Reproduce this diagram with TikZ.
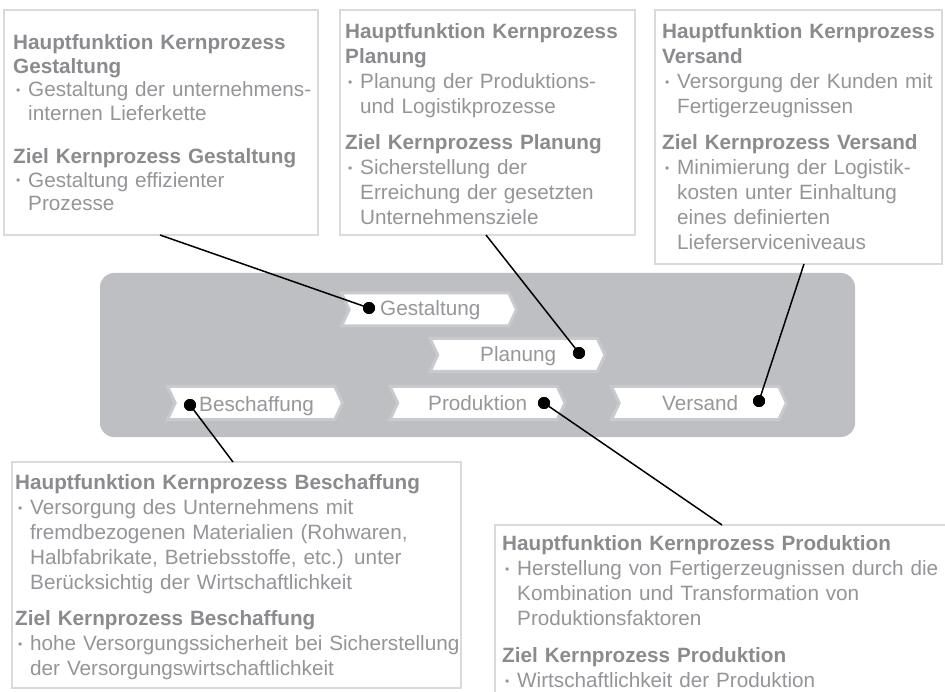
\documentclass[tikz,border=0pt]{standalone}
\usepackage{fontspec}
\setmainfont{Liberation Sans}
\usetikzlibrary{shapes.symbols}

\definecolor{panelgray}{RGB}{190,191,195}
\definecolor{chevrule}{RGB}{201,202,205}
\definecolor{boxrule}{RGB}{218,218,218}
\definecolor{headgray}{RGB}{138,139,142}
\definecolor{bodygray}{RGB}{148,149,152}
\definecolor{labelgray}{RGB}{150,151,154}

% heading line, bulleted paragraph with hanging indent, manual line break
\newcommand\nl{\hfil\break}
\newcommand\kphead[1]{\noindent{\bfseries\color{headgray}#1}\par}
\newcommand\kpitem[1]{\noindent\hangindent=15pt\hangafter=1
  \makebox[15pt][l]{\hspace{3pt}\raisebox{2.2pt}{\fontsize{12}{12}\selectfont •}}#1\par}

\tikzset{
  kpbox/.style={draw=boxrule, line width=2.5pt, fill=white, inner sep=0pt},
  kptext/.style={anchor=north west, inner sep=0pt, align=left, text=bodygray,
    font=\fontsize{20.7}{25}\selectfont},
  stepchev/.style={signal, signal from=west, signal to=east, signal pointer angle=130,
    fill=white, draw=chevrule, line width=3pt, minimum width=175pt,
    minimum height=33pt, inner sep=0pt},
  steplabel/.style={anchor=base west, inner sep=0pt, text=labelgray,
    font=\fontsize{20.7}{25}\selectfont},
  kpdot/.style={circle, fill=black, minimum size=12pt, inner sep=0pt},
  conn/.style={line width=1.5pt, black},
}

\begin{document}
\begin{tikzpicture}[x=1pt, y=-1pt]
\useasboundingbox (0,0) rectangle (945,692);

% central panel with the five process steps
\node[fill=panelgray, rounded corners=14pt, minimum width=755pt, minimum height=164pt,
  inner sep=0pt] (panel) at (477.5,355) {};

\node[stepchev] (cG) at (429,309.5) {};
\node[stepchev] (cP) at (517.5,355) {};
\node[stepchev] (cB) at (255,403) {};
\node[stepchev] (cPr) at (477.5,403) {};
\node[stepchev] (cV) at (699,403) {};

\node[steplabel] (lG) at (380,316) {Gestaltung};
\node[steplabel] (lP) at (480,362) {Planung};
\node[steplabel] (lB) at (199,411) {Beschaffung};
\node[steplabel] (lPr) at (428,410) {Produktion};
\node[steplabel] (lV) at (662,410) {Versand};

% description boxes
\node[kpbox, minimum width=314pt, minimum height=225pt] (bG) at (161,122.5) {};
\node[kpbox, minimum width=295pt, minimum height=225pt] (bP) at (487.5,122.5) {};
\node[kpbox, minimum width=287pt, minimum height=254pt] (bV) at (798.5,137) {};
\node[kpbox, minimum width=449pt, minimum height=226pt] (bB) at (236.5,575) {};
\begin{scope}
\clip (0,0) rectangle (945,692);
\node[kpbox, minimum width=455pt, minimum height=195pt] (bPr) at (722.5,622.5) {};
\end{scope}

\node[kptext, font=\fontsize{20.7}{23.5}\selectfont, text width=300pt] (tG) at (13,34.5) {%
  \kphead{Hauptfunktion Kernprozess\nl Gestaltung}
  \kpitem{Gestaltung der unternehmens-\nl internen Lieferkette}
  \vspace{20pt}
  \kphead{Ziel Kernprozess Gestaltung}
  \kpitem{Gestaltung effizienter\nl Prozesse}};

\node[kptext, text width=285pt] (tP) at (345,23.5) {%
  \kphead{Hauptfunktion Kernprozess\nl Planung}
  \kpitem{Planung der Produktions-\nl und Logistikprozesse}
  \vspace{11pt}
  \kphead{Ziel Kernprozess Planung}
  \kpitem{Sicherstellung der\nl Erreichung der gesetzten\nl Unternehmensziele}};

\node[kptext, text width=280pt] (tV) at (662,23.5) {%
  \kphead{Hauptfunktion Kernprozess\nl Versand}
  \kpitem{Versorgung der Kunden mit\nl Fertigerzeugnissen}
  \vspace{11pt}
  \kphead{Ziel Kernprozess Versand}
  \kpitem{Minimierung der Logistik-\nl kosten unter Einhaltung\nl eines definierten\nl Lieferserviceniveaus}};

\node[kptext, text width=445pt] (tB) at (15,474.5) {%
  \kphead{Hauptfunktion Kernprozess Beschaffung}
  \kpitem{Versorgung des Unternehmens mit\nl fremdbezogenen Materialien (Rohwaren,\nl Halbfabrikate, Betriebsstoffe, etc.) unter\nl Berücksichtig der Wirtschaftlichkeit}
  \vspace{11pt}
  \kphead{Ziel Kernprozess Beschaffung}
  \kpitem{hohe Versorgungssicherheit bei Sicherstellung\nl der Versorgungswirtschaftlichkeit}};

\node[kptext, text width=440pt] (tPr) at (502,535) {%
  \kphead{Hauptfunktion Kernprozess Produktion}
  \kpitem{Herstellung von Fertigerzeugnissen durch die\nl Kombination und Transformation von\nl Produktionsfaktoren}
  \vspace{12pt}
  \kphead{Ziel Kernprozess Produktion}
  \kpitem{Wirtschaftlichkeit der Produktion}};

% connector ends on the box borders
\coordinate (aG) at (160,235);
\coordinate (aP) at (486,235);
\coordinate (aV) at (804,264);
\coordinate (aB) at (233,462);
\coordinate (aPr) at (722,525);

% markers inside the steps
\node[kpdot] (dG) at (369,308) {};
\node[kpdot] (dP) at (579,353) {};
\node[kpdot] (dB) at (190,405) {};
\node[kpdot] (dPr) at (544,403) {};
\node[kpdot] (dV) at (759,401) {};

\draw[conn] (aG) -- (dG.center);
\draw[conn] (aP) -- (dP.center);
\draw[conn] (aV) -- (dV.center);
\draw[conn] (aB) -- (dB.center);
\draw[conn] (aPr) -- (dPr.center);

% markers again, above the connector ends
\fill (dG) circle (6pt);
\fill (dP) circle (6pt);
\fill (dB) circle (6pt);
\fill (dPr) circle (6pt);
\fill (dV) circle (6pt);
\end{tikzpicture}
\end{document}
